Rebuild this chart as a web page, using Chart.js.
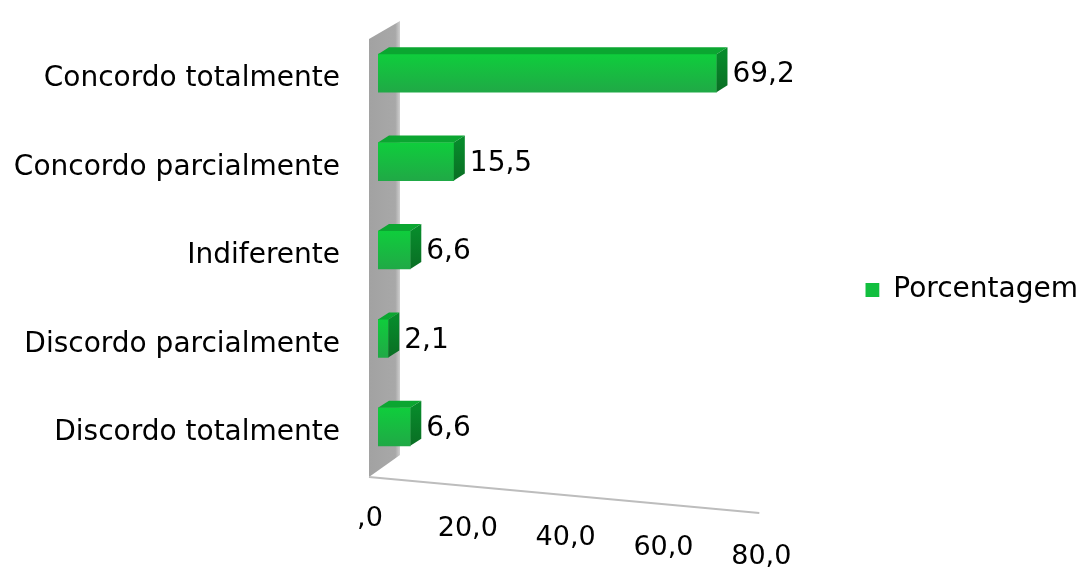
<!DOCTYPE html>
<html>
<head>
<meta charset="utf-8">
<script src="https://cdn.jsdelivr.net/npm/chart.js@4.4.0/dist/chart.umd.min.js"></script>
<style>
  html, body { margin: 0; padding: 0; background: #ffffff; }
  #wrap { width: 1088px; height: 567px; }
</style>
</head>
<body>
<div id="wrap"><canvas id="grafico"></canvas></div>
<script>
// categorias e valores (%)
const categorias = [
  'Concordo totalmente',
  'Concordo parcialmente',
  'Indiferente',
  'Discordo parcialmente',
  'Discordo totalmente'
];
const porcentagem = [69.2, 15.5, 6.6, 2.1, 6.6];
const ticksX = [0, 20, 40, 60, 80];

const fonte = 'DejaVu Sans';
// profundidade do efeito 3D
const PROF_X = 11, PROF_Y = 7;

// formato com vírgula decimal, zero aparece como ",0"
function fmt(v) {
  if (v === 0) return ',0';
  return v.toFixed(1).replace('.', ',');
}

// gradiente vertical da face frontal de cada barra
function corFrente(c) {
  const chart = c.chart;
  const y = chart.scales.y;
  if (!chart.chartArea || !y || c.dataIndex === undefined) return '#14c040';
  const yc = y.getPixelForValue(c.dataIndex);
  const g = chart.ctx.createLinearGradient(0, yc - 19, 0, yc + 19);
  g.addColorStop(0, '#0fcd3c');
  g.addColorStop(1, '#20a946');
  return g;
}

// parede cinza, linha do piso e rótulos do eixo x inclinados
const parede = {
  id: 'parede',
  beforeDatasetsDraw(chart) {
    const ctx = chart.ctx;
    const x = chart.scales.x;
    const a = chart.chartArea;
    const x0 = x.getPixelForValue(0);
    ctx.save();
    const g = ctx.createLinearGradient(x0 - 9, 0, x0 + 22, 0);
    g.addColorStop(0, '#a2a2a2');
    g.addColorStop(0.85, '#a8a8a8');
    g.addColorStop(1, '#cfcfcf');
    ctx.fillStyle = g;
    ctx.beginPath();
    ctx.moveTo(x0 - 9, a.top + 10);
    ctx.lineTo(x0 + 22, a.top - 8);
    ctx.lineTo(x0 + 22, a.bottom - 16);
    ctx.lineTo(x0 - 9, a.bottom + 6);
    ctx.closePath();
    ctx.fill();

    // piso
    const x80 = x.getPixelForValue(80);
    ctx.strokeStyle = '#bdbdbd';
    ctx.lineWidth = 2;
    ctx.beginPath();
    ctx.moveTo(x0 - 9, a.bottom + 6);
    ctx.lineTo(x80 - 10, a.bottom + 42);
    ctx.stroke();

    // rótulos do eixo x
    ctx.fillStyle = '#000';
    ctx.font = '27px "' + fonte + '"';
    ctx.textAlign = 'center';
    ctx.textBaseline = 'middle';
    const inc = 38 / (x80 - x0);
    x.ticks.forEach(t => {
      const px = x.getPixelForValue(t.value) - 8;
      ctx.fillText(fmt(t.value), px, a.bottom + 48 + inc * (px - x0 + 8));
    });
    ctx.restore();
  },
  afterDatasetsDraw(chart) {
    const ctx = chart.ctx;
    const meta = chart.getDatasetMeta(0);
    ctx.save();
    meta.data.forEach((bar, i) => {
      const p = bar.getProps(['x', 'y', 'base', 'height'], true);
      const top = p.y - p.height / 2;
      const bot = p.y + p.height / 2;
      // face superior
      ctx.fillStyle = '#0ba631';
      ctx.beginPath();
      ctx.moveTo(p.base, top);
      ctx.lineTo(p.base + PROF_X, top - PROF_Y);
      ctx.lineTo(p.x + PROF_X, top - PROF_Y);
      ctx.lineTo(p.x, top);
      ctx.closePath();
      ctx.fill();
      // face lateral
      const gs = ctx.createLinearGradient(0, top, 0, bot);
      gs.addColorStop(0, '#078a2b');
      gs.addColorStop(1, '#0a6e24');
      ctx.fillStyle = gs;
      ctx.beginPath();
      ctx.moveTo(p.x, top);
      ctx.lineTo(p.x + PROF_X, top - PROF_Y);
      ctx.lineTo(p.x + PROF_X, bot - PROF_Y);
      ctx.lineTo(p.x, bot);
      ctx.closePath();
      ctx.fill();
      // rótulo de valor
      ctx.fillStyle = '#000';
      ctx.font = '28px "' + fonte + '"';
      ctx.textAlign = 'left';
      ctx.textBaseline = 'middle';
      ctx.fillText(fmt(porcentagem[i]), p.x + PROF_X + 5, p.y + 2);
    });
    ctx.restore();
  }
};

const ctx = document.getElementById('grafico');

new Chart(ctx, {
  type: 'bar',
  data: {
    labels: categorias,
    datasets: [{
      label: 'Porcentagem',
      data: porcentagem,
      backgroundColor: corFrente,
      borderWidth: 0,
      barThickness: 38
    }]
  },
  options: {
    indexAxis: 'y',
    responsive: true,
    maintainAspectRatio: false,
    animation: false,
    layout: { padding: { top: 29, bottom: 16, left: 0, right: 0 } },
    scales: {
      x: {
        min: 0,
        max: 80,
        afterBuildTicks: s => { s.ticks = ticksX.map(v => ({ value: v })); },
        grid: { display: false, drawTicks: false },
        border: { display: false },
        ticks: { display: false },
        afterFit: s => { s.height = 80; }
      },
      y: {
        grid: { display: false, drawTicks: false },
        border: { display: false },
        ticks: {
          color: '#000',
          padding: 38,
          labelOffset: 6,
          font: { family: fonte, size: 28 }
        },
        afterFit: s => {
          s.width = 378;
          s.paddingTop = 0;
          s.paddingBottom = 0;
        }
      },
      espaco: {
        type: 'linear',
        position: 'right',
        display: true,
        grid: { display: false, drawTicks: false },
        border: { display: false },
        ticks: { display: false },
        afterFit: s => { s.width = 96; }
      }
    },
    plugins: {
      legend: {
        position: 'right',
        maxWidth: 300,
        labels: {
          color: '#000',
          boxWidth: 14,
          boxHeight: 14,
          padding: 0,
          font: { family: fonte, size: 28 },
          generateLabels: chart => [{
            text: 'Porcentagem',
            fillStyle: '#12bf3f',
            strokeStyle: '#12bf3f',
            lineWidth: 0,
            datasetIndex: 0
          }]
        }
      },
      tooltip: { enabled: false }
    }
  },
  plugins: [parede]
});
</script>
</body>
</html>
